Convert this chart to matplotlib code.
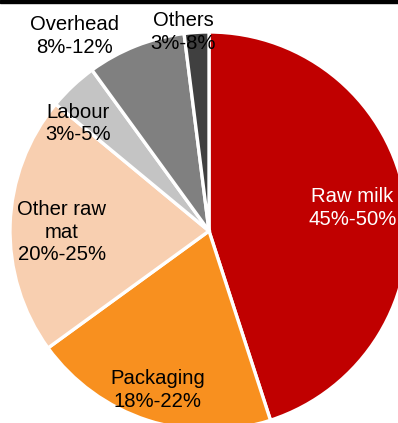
import matplotlib
matplotlib.use('Agg')
import matplotlib.pyplot as plt
import numpy as np
from matplotlib.patches import Rectangle

plt.rcParams['font.family'] = ['Liberation Sans', 'DejaVu Sans']

# data
names = ['Raw milk', 'Packaging', 'Other raw\nmat', 'Labour', 'Overhead', 'Others']
ranges = ['45%-50%', '18%-22%', '20%-25%', '3%-5%', '8%-12%', '3%-8%']
shares = [45, 20, 21, 4, 8, 2]
colors = ['#C00000', '#F8901F', '#F8CFB0', '#C4C4C4', '#808080', '#404040']
text_colors = ['white', 'black', 'black', 'black', 'black', 'black']

# label placement: (angle in degrees, distance in radii)
label_pos = [(9, 0.73), (-108, 0.84), (180.4, 0.74), (140.5, 0.85), (124.5, 1.19), (97.4, 1.01)]

W, H = 398, 423
fig = plt.figure(figsize=(W / 100, H / 100), dpi=100)
ax = fig.add_axes([0, 0, 1, 1])

cx, cy, R = 209, H - 231, 199
wedges, _ = ax.pie(shares, colors=colors, startangle=90, counterclock=False,
                   center=(cx, cy), radius=R,
                   wedgeprops=dict(edgecolor='white', linewidth=2.4))

for i, (ang, dist) in enumerate(label_pos):
    a = np.deg2rad(ang)
    x = cx + dist * R * np.cos(a)
    y = cy + dist * R * np.sin(a)
    ax.text(x, y, names[i] + '\n' + ranges[i], ha='center', va='center',
            fontsize=14.6, color=text_colors[i], linespacing=1.25)

ax.set_xlim(0, W)
ax.set_ylim(0, H)
ax.set_aspect('equal')
ax.axis('off')

# black strip along the top edge
fig.patches.append(Rectangle((0, 1 - 3.5 / H), 1, 3.5 / H, transform=fig.transFigure,
                             color='black', zorder=10))

plt.savefig('out.png', dpi=100)
